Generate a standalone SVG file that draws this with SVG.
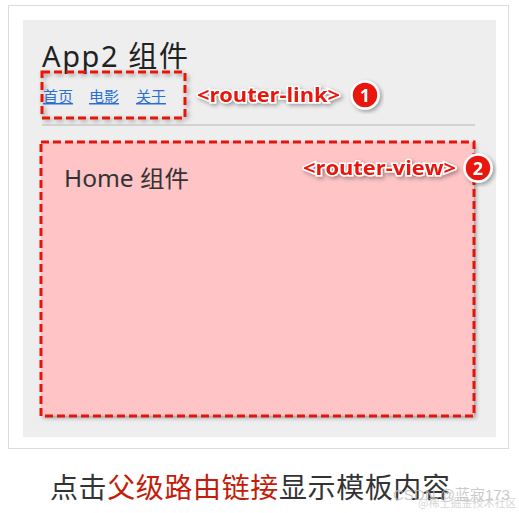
<svg xmlns="http://www.w3.org/2000/svg" width="519" height="513" viewBox="0 0 519 513">
<defs>
<style>
.dash{fill:none;stroke:#e5140a;stroke-width:3;stroke-dasharray:8 4}
.tag{font-family:"Open Sans","Noto Sans",sans-serif;font-weight:bold;font-size:20px;fill:#e8170a;stroke:#fff;stroke-width:3;paint-order:stroke;}
.num{font-family:"Open Sans","Noto Sans",sans-serif;font-weight:bold;font-size:18px;fill:#fff;text-anchor:middle}
.link{font-family:"Noto Sans CJK SC",sans-serif;font-size:15px;fill:#2a6fd6;text-decoration:underline}
.cap{font-family:"Noto Sans CJK SC",sans-serif;font-size:28px;fill:#333}
</style>
<filter id="sh" x="-10%" y="-10%" width="130%" height="130%">
<feDropShadow dx="2" dy="2" stdDeviation="2" flood-color="#000" flood-opacity="0.35"/>
</filter>
</defs>
<rect x="0" y="0" width="519" height="513" fill="#fff"/>
<rect x="8.5" y="5.5" width="500" height="443" fill="#fff" stroke="#dcdcdc" stroke-width="1"/>
<rect x="23" y="20" width="473" height="417" fill="#eeeeee"/>
<g id="title">
<text x="42" y="67" font-family="Noto Sans, Noto Sans CJK SC, sans-serif" font-size="29" fill="#222" textLength="146">App2 组件</text>
</g>
<g id="router-link">
<rect x="42" y="72" width="143" height="46" class="dash" filter="url(#sh)"/>
<text x="43" y="102" class="link">首页</text>
<text x="89" y="102" class="link">电影</text>
<text x="136" y="102" class="link">关于</text>
<text x="197" y="102" class="tag" filter="url(#sh)" textLength="143" lengthAdjust="spacingAndGlyphs">&lt;router-link&gt;</text>
<g filter="url(#sh)">
<circle cx="365" cy="95" r="13.5" fill="#e8170a" stroke="#fff" stroke-width="2.5"/>
<text x="365" y="101.5" class="num">1</text>
</g>
</g>
<line x1="42" y1="125" x2="475" y2="125" stroke="#c8c8c8" stroke-width="1.5"/>
<g id="router-view">
<rect x="41" y="142" width="433" height="274" fill="#ffc4c6" filter="url(#sh)"/>
<rect x="41" y="142" width="433" height="274" class="dash"/>
<text x="64" y="187" font-family="Noto Sans, Noto Sans CJK SC, sans-serif" font-size="23" fill="#333" textLength="125" lengthAdjust="spacingAndGlyphs">Home 组件</text>
<text x="303" y="175" class="tag" filter="url(#sh)" textLength="153" lengthAdjust="spacingAndGlyphs">&lt;router-view&gt;</text>
<g filter="url(#sh)">
<circle cx="478" cy="168" r="13.5" fill="#e8170a" stroke="#fff" stroke-width="2.5"/>
<text x="478" y="174.5" class="num">2</text>
</g>
</g>
<g id="caption">
<text x="50" y="498" class="cap" textLength="400">点击<tspan fill="#c41c0a">父级路由链接</tspan>显示模板内容</text>
<text x="393" y="500" font-family="Liberation Sans, Noto Sans CJK SC, sans-serif" font-size="15" fill="#bbb" fill-opacity="0.8">CSDN @蓝寂173</text>
<text x="418" y="507" font-family="Noto Sans CJK SC, sans-serif" font-size="11" fill="#ccc" fill-opacity="0.8">@稀土掘金技术社区</text>
</g>
</svg>
